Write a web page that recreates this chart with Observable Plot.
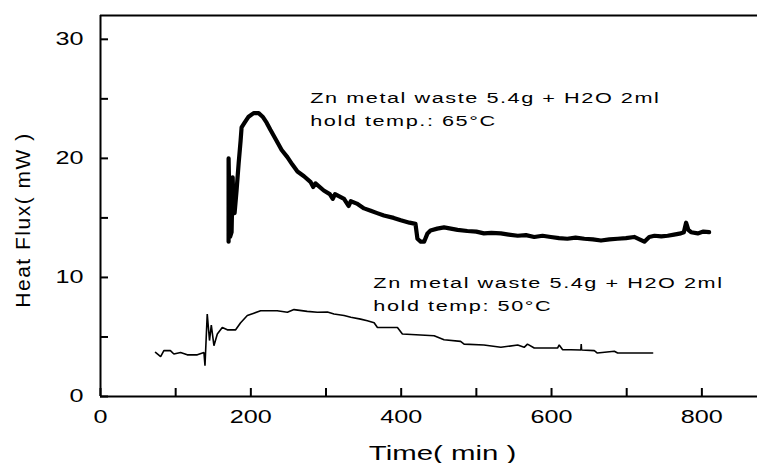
<!DOCTYPE html>
<html><head><meta charset="utf-8">
<script src="https://cdn.jsdelivr.net/npm/d3@7"></script>
<script src="https://cdn.jsdelivr.net/npm/@observablehq/plot@0.6"></script>
<style>
html,body{margin:0;padding:0;background:#fff;}
</style></head><body><div id="chart"></div>
<script>
// 65°C run (thick line)
const t65 = [170.4,170.4,172.4,174.4,175.8,177.0,178.4,181.0,183.8,186.4,187.7,191.7,197.0,203.7,210.4,215.7,221.0,226.0,234.0,241.0,
  248.6,255.0,262.0,270.7,279.6,283.0,286.0,297.0,305.0,309.0,312.0,324.0,330.0,333.0,341.0,350.6,359.5,368.0,377.0,390.0,
  399.5,411.0,419.0,421.6,426.0,430.5,435.0,439.0,448.0,457.0,466.0,475.0,488.0,500.0,510.0,520.0,532.6,543.0,555.0,566.0,
  577.0,588.0,599.0,610.0,621.0,632.0,643.6,655.0,665.8,677.0,688.0,699.0,710.0,717.0,723.5,730.0,737.0,746.0,754.5,763.0,
  772.0,776.0,779.0,782.0,785.6,794.5,802.0,809.6];
const y65 = [13.0,20.0,13.4,13.8,18.4,16.0,15.4,17.3,19.6,21.5,22.6,23.0,23.5,23.8,23.8,23.5,23.0,22.4,21.5,20.7,
  20.1,19.5,18.9,18.5,18.0,17.6,17.9,17.3,17.0,16.6,17.0,16.6,16.0,16.4,16.2,15.8,15.6,15.4,15.2,15.0,
  14.8,14.6,14.5,13.25,13.0,13.0,13.7,13.95,14.1,14.2,14.1,14.0,13.9,13.85,13.7,13.75,13.7,13.6,13.5,13.55,
  13.4,13.5,13.4,13.3,13.25,13.35,13.25,13.2,13.1,13.2,13.25,13.3,13.4,13.2,13.0,13.4,13.5,13.45,13.5,13.6,
  13.7,13.8,14.6,14.0,13.8,13.7,13.85,13.8];
// 50°C run (thin line)
const t50 = [73.2,80.0,84.3,93.0,97.6,106.5,115.4,128.8,137.6,139.0,142.0,145.0,147.4,150.9,155.4,162.0,168.7,179.8,186.4,195.3,
  204.0,213.0,235.0,248.6,257.4,275.0,288.5,301.9,310.6,324.0,333.0,346.0,355.0,364.0,368.4,395.0,401.6,443.8,457.0,479.0,
  483.7,510.0,532.6,555.0,563.6,568.0,577.0,608.0,610.2,614.8,625.8,639.0,639.5,640.0,656.9,661.0,683.5,688.0,734.5];
const y50 = [3.7,3.35,3.85,3.85,3.57,3.7,3.5,3.5,3.7,2.58,6.93,4.7,6.0,4.27,5.25,5.8,5.6,5.6,6.2,6.8,
  7.0,7.2,7.2,7.07,7.3,7.15,7.07,7.1,6.93,6.8,6.65,6.5,6.37,6.2,5.8,5.8,5.25,5.1,4.77,4.63,
  4.4,4.33,4.13,4.33,4.13,4.4,4.07,4.07,4.33,3.93,3.93,3.9,4.4,3.9,3.85,3.65,3.8,3.65,3.65];

const xTicks = [0,100,200,300,400,500,600,700,800];
const xTickLabels = ["0","","200","","400","","600","","800"];
const yTicks = [0,5,10,15,20,25,30];
const yTickLabels = ["0","","10","","20","","30"];

const xLabel = "Time( min )";
const yLabel = "Heat Flux( mW )";

const noteText = ["Zn metal waste 5.4g + H2O 2ml", "hold temp.: 65°C",
                  "Zn metal waste 5.4g + H2O 2ml", "hold temp: 50°C"];
const noteX = [279, 279, 363, 363];
const noteY = [24.63, 22.76, 9.10, 7.22];

const s65 = t65.map((t, i) => ({t, v: y65[i]}));
const s50 = t50.map((t, i) => ({t, v: y50[i]}));
const notes = noteText.map((text, i) => ({text, x: noteX[i], y: noteY[i]}));

const W = 757, H = 463, ML = 100, MR = 0, MT = 15, MB = 67;
const TICK = 8;
// inward tick glyphs (pixel length)
const tickUp = {draw(ctx) { ctx.moveTo(0, 0); ctx.lineTo(0, -TICK); }};
const tickRight = {draw(ctx) { ctx.moveTo(0, 0); ctx.lineTo(TICK, 0); }};

const chart = Plot.plot({
  width: W, height: H,
  marginLeft: ML, marginRight: MR, marginTop: MT, marginBottom: MB,
  style: {fontFamily: "'Liberation Sans', Arial, sans-serif", fontSize: "18px", color: "#000", background: "#fff"},
  x: {domain: [0, 874], ticks: xTicks, tickSize: 0, tickPadding: 14, label: null,
      tickFormat: d => xTickLabels[xTicks.indexOf(d)]},
  y: {domain: [0, 32], ticks: yTicks, tickSize: 0, tickPadding: 17, label: null,
      tickFormat: d => yTickLabels[yTicks.indexOf(d)]},
  marks: [
    Plot.ruleX(xTicks, {x: d => d, insetTop: H - MT - MB - TICK, stroke: "#000", strokeWidth: 2}),
    Plot.ruleY(yTicks, {y: d => d, insetRight: W - ML - MR - TICK, stroke: "#000", strokeWidth: 2}),
    Plot.ruleX([0], {stroke: "#000", strokeWidth: 2}),
    Plot.ruleY([0, 32], {stroke: "#000", strokeWidth: 2}),
    Plot.line(s50, {x: "t", y: "v", stroke: "#000", strokeWidth: 1.6, strokeLinejoin: "miter"}),
    Plot.line(s65, {x: "t", y: "v", stroke: "#000", strokeWidth: 4.2, strokeLinejoin: "round"}),
    Plot.text(notes, {x: "x", y: "y", text: "text", textAnchor: "start", lineAnchor: "bottom", fontSize: 15.5, fill: "#000"}),
    Plot.text([xLabel], {frameAnchor: "bottom", textAnchor: "middle", dx: 13.5, dy: 57, lineAnchor: "middle", fontSize: 21, fill: "#000"}),
    Plot.text([yLabel], {frameAnchor: "left", textAnchor: "middle", dx: -77, dy: 14, rotate: -90, lineAnchor: "middle", fontSize: 21, fill: "#000"})
  ]
});

function stretchText(t, s, ls) {
  const x = parseFloat(t.getAttribute("x")) || 0;
  const tr = t.getAttribute("transform") || "";
  if (s !== 1) t.setAttribute("transform", `${tr} translate(${x},0) scale(${s},1) translate(${-x},0)`);
  if (ls) { t.style.letterSpacing = ls + "px"; t.setAttribute("letter-spacing", ls); }
}
chart.querySelectorAll("text").forEach(t => {
  const s = t.textContent;
  if (noteText.includes(s)) stretchText(t, 1.4, 1.1);
  else if (s === xLabel) stretchText(t, 1.4, 0);
  else if (s === yLabel) stretchText(t, 1, 1.5);
  else if (s !== "" && (xTickLabels.includes(s) || yTickLabels.includes(s))) stretchText(t, 1.4, 0);
});

document.getElementById("chart").appendChild(chart);
</script>
</body></html>
